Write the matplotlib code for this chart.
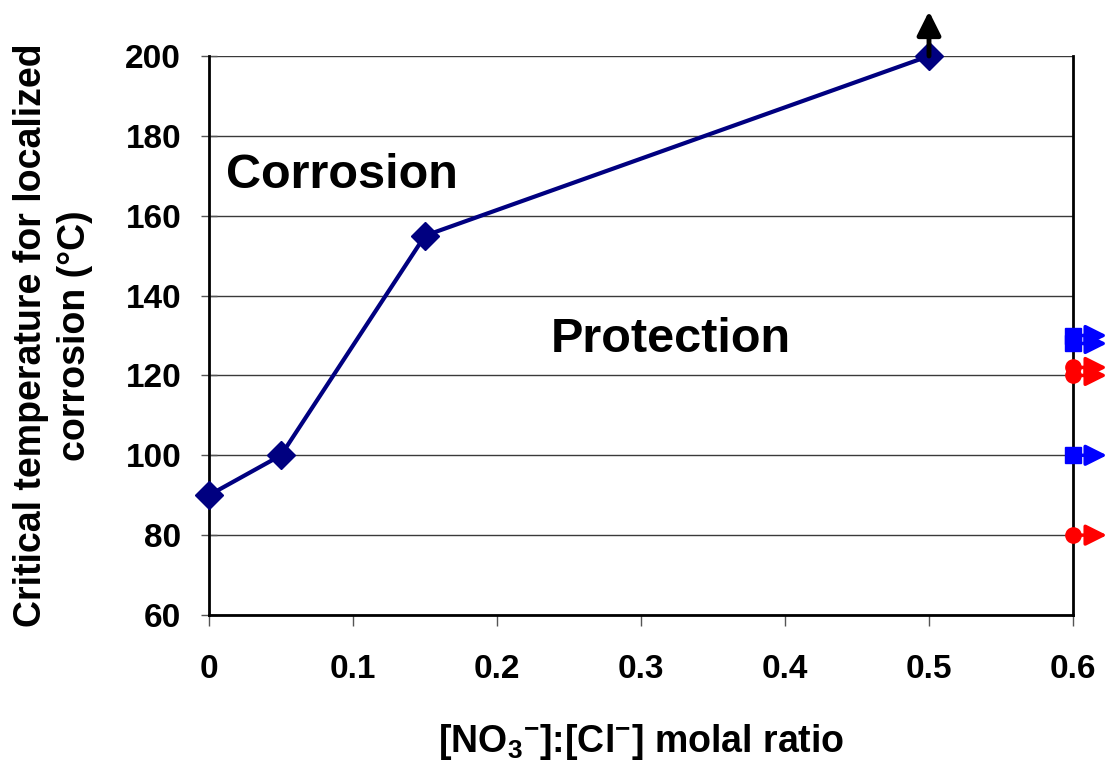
import matplotlib

matplotlib.use("Agg")
import matplotlib.pyplot as plt

# main curve: critical temperature vs nitrate/chloride ratio
ratio = [0.0, 0.05, 0.15, 0.5]
crit_temp = [90, 100, 155, 200]

# open-ended results plotted at the right edge (no attack up to these temps)
blue_x = [0.6, 0.6, 0.6]
blue_temp = [130, 128, 100]
red_x = [0.6, 0.6, 0.6]
red_temp = [122, 120, 80]

x_ticks = [0, 0.1, 0.2, 0.3, 0.4, 0.5, 0.6]
x_ticklabels = ["0", "0.1", "0.2", "0.3", "0.4", "0.5", "0.6"]
y_ticks = [60, 80, 100, 120, 140, 160, 180, 200]

FONT = "Liberation Sans"
plt.rcParams["font.family"] = [FONT, "DejaVu Sans"]
plt.rcParams["font.weight"] = "bold"
plt.rcParams["mathtext.fontset"] = "custom"
plt.rcParams["mathtext.rm"] = f"{FONT}:bold"
plt.rcParams["mathtext.it"] = f"{FONT}:bold"
plt.rcParams["mathtext.bf"] = f"{FONT}:bold"

fig = plt.figure(figsize=(11.08, 7.61), dpi=100)
ax = fig.add_axes([209 / 1108, 1 - 615 / 761, 864 / 1108, 559 / 761])

ax.set_xlim(0, 0.6)
ax.set_ylim(60, 200)
ax.set_yticks(y_ticks)
ax.set_xticks(x_ticks)
ax.set_xticklabels(x_ticklabels)
ax.yaxis.grid(True, color="#3a3a3a", lw=1)
ax.set_axisbelow(True)

for side in ("left", "bottom", "right"):
    ax.spines[side].set_linewidth(2)
    ax.spines[side].set_color("black")
ax.spines["top"].set_visible(False)

ax.tick_params(axis="y", direction="inout", length=12, width=1, color="#555555",
               labelsize=24, pad=14)
ax.tick_params(axis="x", direction="out", length=8, width=1, color="#555555",
               labelsize=24, pad=20)
for lab in ax.get_xticklabels() + ax.get_yticklabels():
    lab.set_fontweight("bold")

# arrows for open-ended points
arrow_dx = 0.0235
for xs, ys, col in ((red_x, red_temp, "red"), (blue_x, blue_temp, "blue")):
    for xv, yv in zip(xs, ys):
        ax.annotate("", xy=(xv + arrow_dx, yv), xytext=(xv, yv),
                    arrowprops=dict(arrowstyle="-|>", color=col, lw=2.5,
                                    mutation_scale=32, shrinkA=0, shrinkB=0),
                    annotation_clip=False, zorder=4)
ax.plot(red_x, red_temp, "o", color="red", markersize=11, clip_on=False, zorder=5)
ax.plot(blue_x, blue_temp, "s", color="blue", markersize=11, clip_on=False, zorder=5)

# up arrow at the last point (above 200)
ax.annotate("", xy=(ratio[-1], 211.2), xytext=(ratio[-1], crit_temp[-1]),
            arrowprops=dict(arrowstyle="-|>", color="black", lw=3.5,
                            mutation_scale=36, shrinkA=0, shrinkB=0),
            annotation_clip=False, zorder=6)

ax.plot(ratio, crit_temp, "-D", color="#000080", lw=3, markersize=14,
        clip_on=False, zorder=5)

ax.text(0.0115, 170, "Corrosion", fontsize=35, fontweight="bold", va="center")
ax.text(0.237, 129, "Protection", fontsize=35, fontweight="bold", va="center")

ax.set_xlabel(r"[NO$_3{}^{-}$]:[Cl$^{-}$] molal ratio", fontsize=27,
              fontweight="bold", va="center")
ax.xaxis.set_label_coords(0.5, (615 - 742) / 559)
ax.set_ylabel("Critical temperature for localized\ncorrosion (°C)", fontsize=27,
              fontweight="bold", va="center", linespacing=1.3)
ax.yaxis.set_label_coords((53 - 209) / 864, 0.5)

fig.savefig("out.png", dpi=100)
